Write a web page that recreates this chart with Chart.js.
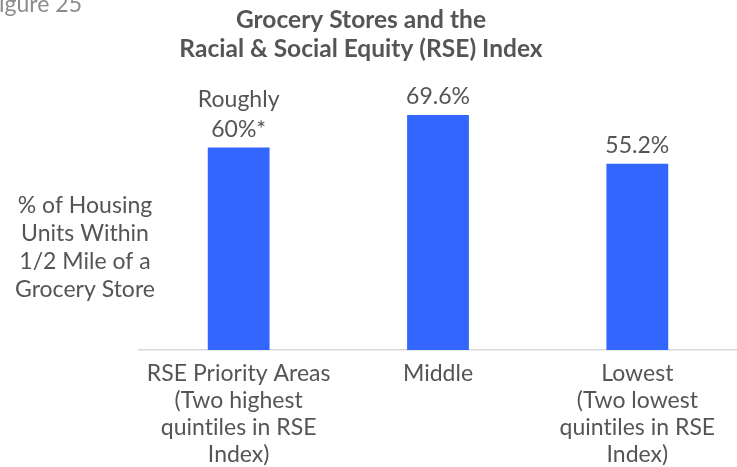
<!DOCTYPE html>
<html>
<head>
<meta charset="utf-8">
<script src="https://cdn.jsdelivr.net/npm/chart.js@4/dist/chart.umd.min.js"></script>
<style>
html,body{margin:0;padding:0;background:#fff;}
#wrap{width:737px;height:467px;position:relative;}
</style>
</head>
<body>
<div id="wrap"><canvas id="c" width="737" height="467"></canvas></div>
<script>
// ---- data ----
const categories = [
  ["RSE Priority Areas", "(Two highest", "quintiles in RSE", "Index)"],
  ["Middle"],
  ["Lowest", "(Two lowest", "quintiles in RSE", "Index)"]
];
const values = [60, 69.6, 55.2];
const valueLabels = [["Roughly", "60%*"], ["69.6%"], ["55.2%"]];
const titleLines = ["Grocery Stores and the", "Racial & Social Equity (RSE) Index"];
const yAxisTitle = ["% of Housing", "Units Within", "1/2 Mile of a", "Grocery Store"];
const figureLabel = "Figure 25";

const FONT = "Lato, 'Open Sans', sans-serif";
const TXT = "#555555";

const noLigatures = {
  id: "noLigatures",
  beforeDraw(chart) {
    if ("letterSpacing" in chart.ctx) chart.ctx.letterSpacing = "0.01px";
  }
};

const decor = {
  id: "decor",
  afterDraw(chart) {
    const ctx = chart.ctx;
    ctx.save();
    if ("letterSpacing" in ctx) ctx.letterSpacing = "0.01px";
    ctx.textBaseline = "alphabetic";
    // figure label (partially cut off)
    ctx.font = "23px " + FONT;
    ctx.fillStyle = "#8c8c8c";
    ctx.textAlign = "right";
    ctx.fillText(figureLabel, 82, 12);
    // title
    ctx.font = "bold 24.5px " + FONT;
    ctx.fillStyle = TXT;
    ctx.textAlign = "center";
    ctx.fillText(titleLines[0], 361, 28);
    ctx.fillText(titleLines[1], 361, 57);
    // y-axis title
    ctx.font = "23px " + FONT;
    yAxisTitle.forEach((t, i) => ctx.fillText(t, 85, 213 + i * 28));
    // value labels
    const meta = chart.getDatasetMeta(0);
    meta.data.forEach((bar, i) => {
      const lines = valueLabels[i];
      const n = lines.length;
      lines.forEach((t, j) => {
        ctx.fillText(t, bar.x, bar.y - 11 - (n - 1 - j) * 30);
      });
    });
    ctx.restore();
  }
};

new Chart(document.getElementById("c"), {
  type: "bar",
  data: {
    labels: categories,
    datasets: [{
      data: values,
      backgroundColor: "#3366FF",
      borderWidth: 0,
      categoryPercentage: 1,
      barPercentage: 0.31
    }]
  },
  options: {
    responsive: false,
    animation: false,
    devicePixelRatio: 1,
    layout: { padding: { top: 80, left: 139, right: 0, bottom: 0 } },
    plugins: { legend: { display: false }, tooltip: { enabled: false }, title: { display: false } },
    scales: {
      x: {
        grid: { display: false, drawTicks: false },
        border: { display: true, color: "#d9d9d9", width: 1.5 },
        ticks: {
          color: TXT,
          font: { family: FONT, size: 23, lineHeight: 1.17 },
          padding: 10,
          maxRotation: 0,
          autoSkip: false
        },
        afterFit(s) { s.height = 117; }
      },
      y: {
        display: false,
        min: 0,
        max: 80
      }
    }
  },
  plugins: [noLigatures, decor]
});
</script>
</body>
</html>
